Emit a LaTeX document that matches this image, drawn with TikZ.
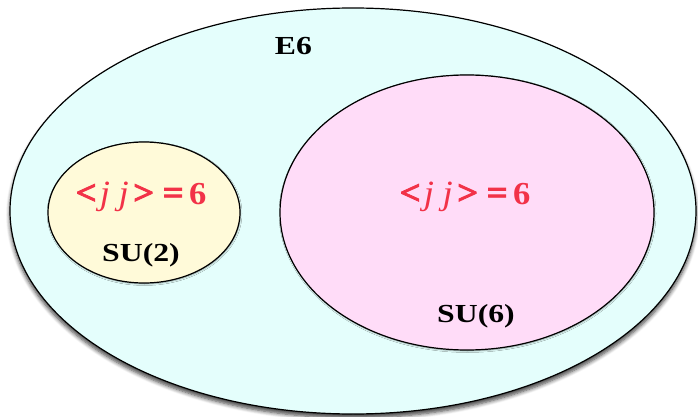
\documentclass[tikz,border=0pt]{standalone}
\usepackage{graphicx}
\usepackage{fontspec}
\setmainfont{Liberation Serif}
\newfontfamily\thicksym[FakeBold=2.5]{Liberation Serif Bold}
\usetikzlibrary{shadows.blur}
\definecolor{outerfill}{RGB}{228,254,252}
\definecolor{yelfill}{RGB}{255,250,217}
\definecolor{pinkfill}{RGB}{255,220,248}
\definecolor{redtxt}{RGB}{242,50,72}
\tikzset{
  setbox/.style={draw=black, line width=1.2pt},
  lbl/.style={font=\fontsize{26}{30}\selectfont\bfseries, text=black, inner sep=0pt, anchor=base},
  eqlbl/.style={font=\fontsize{34}{38}\selectfont\bfseries, text=redtxt, inner sep=0pt, anchor=base},
}
\newcommand{\stretchtxt}[1]{\scalebox{1.22}[1]{#1}}
\newcommand{\jjeq}{\scalebox{1.08}[1]{{\thicksym <}\hspace{3pt}{\mdseries\itshape j}\hspace{8pt}{\mdseries\itshape j}\hspace{4pt}{\thicksym >}\hspace{8pt}{\thicksym =}\hspace{5pt}{\fontsize{32}{36}\selectfont 6}}}
\begin{document}
\begin{tikzpicture}[x=1pt,y=-1pt]
\useasboundingbox (0,0) rectangle (698,417);
\path[setbox, fill=outerfill, blur shadow={shadow xshift=0pt, shadow yshift=-4pt, shadow blur steps=6, shadow blur radius=4pt, shadow opacity=75}] (353,211) ellipse [x radius=343, y radius=203];
\path[setbox, fill=yelfill, blur shadow={shadow xshift=0.5pt, shadow yshift=-1pt, shadow blur steps=3, shadow blur radius=1.5pt, shadow opacity=40}] (144,212.5) ellipse [x radius=96, y radius=70.5];
\path[setbox, fill=pinkfill, blur shadow={shadow xshift=0.5pt, shadow yshift=-1pt, shadow blur steps=3, shadow blur radius=1.5pt, shadow opacity=40}] (467,212.5) ellipse [x radius=187, y radius=137.5];
\node[lbl] (e6) at (293.5,55) {\stretchtxt{E6}};
\node[eqlbl] (eq2) at (141,204) {\jjeq};
\node[lbl] (su2) at (141,261) {\stretchtxt{SU(2)}};
\node[eqlbl] (eq6) at (465,204) {\jjeq};
\node[lbl] (su6) at (476,322) {\stretchtxt{SU(6)}};
\end{tikzpicture}
\end{document}
